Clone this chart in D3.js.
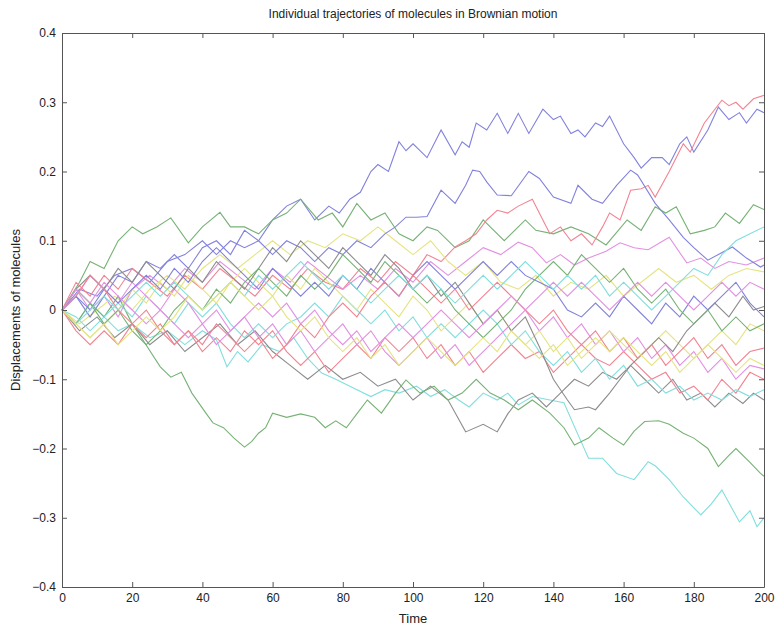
<!DOCTYPE html>
<html><head><meta charset="utf-8">
<script src="https://cdn.jsdelivr.net/npm/d3@7/dist/d3.min.js"></script>
<style>
html,body{margin:0;padding:0;background:#fff;}
text{font-family:"Liberation Sans",Arial,sans-serif;}
</style></head>
<body><svg id="c" width="775" height="629"></svg>
<script>
const title = "Individual trajectories of molecules in Brownian motion";
const xLabel = "Time";
const yLabel = "Displacements of molecules";
const xTicks = [0,20,40,60,80,100,120,140,160,180,200];
const yTicks = [-0.4,-0.3,-0.2,-0.1,0,0.1,0.2,0.3,0.4];
const lineColors = ["#8282dc","#76b276","#f28492","#82dede","#e290e2","#e4e482","#8c8c8c"];

// knots [time, displacement]
const traj01 = [[0,0],[5,0.03],[10,0.02],[15,0.05],[20,0.06],[25,0.04],[30,0.07],[35,0.08],[40,0.1],[44,0.08],[48,0.1],[52,0.09],[56,0.1],[60,0.13],[64,0.15],[68,0.16],[72,0.13],[76,0.15],[79,0.14],[82,0.16],[85,0.17],[88,0.2],[90,0.21],[93,0.2],[96,0.243],[98,0.23],[100,0.24],[102,0.23],[104,0.22],[108,0.26],[112,0.224],[114,0.243],[116,0.235],[118,0.27],[121,0.26],[124,0.284],[127,0.255],[130,0.284],[133,0.255],[137,0.29],[140,0.275],[142,0.28],[145,0.255],[147,0.26],[149,0.25],[152,0.27],[154,0.265],[156,0.28],[160,0.24],[163,0.22],[165,0.205],[168,0.22],[171,0.22],[173,0.21],[176,0.24],[178,0.25],[180,0.228],[184,0.26],[187,0.293],[190,0.275],[193,0.285],[195,0.27],[198,0.29],[200,0.285]];
const traj02 = [[0,0],[5,0.04],[8,0.07],[12,0.06],[16,0.1],[20,0.12],[23,0.11],[27,0.12],[31,0.133],[36,0.097],[40,0.12],[45,0.141],[48,0.12],[52,0.12],[56,0.11],[60,0.13],[64,0.14],[68,0.16],[73,0.13],[77,0.14],[80,0.12],[84,0.154],[88,0.13],[92,0.14],[96,0.11],[100,0.1],[104,0.12],[107,0.115],[112,0.09],[116,0.1],[120,0.13],[122,0.12],[126,0.1],[130,0.12],[132,0.13],[135,0.115],[140,0.11],[145,0.12],[150,0.11],[155,0.094],[161,0.13],[165,0.115],[169,0.149],[172,0.14],[175,0.149],[179,0.11],[183,0.115],[186,0.12],[189,0.14],[193,0.125],[197,0.152],[200,0.145]];
const traj03 = [[0,0],[4,0.04],[8,0.02],[12,0.05],[16,0.03],[20,0.06],[25,0.04],[30,0.02],[35,0.05],[40,0.03],[45,0.06],[50,0.04],[55,0.02],[60,0.05],[65,0.03],[70,0.06],[75,0.04],[80,0.03],[85,0.06],[90,0.04],[95,0.07],[100,0.05],[104,0.08],[108,0.07],[112,0.091],[115,0.1],[118,0.11],[121,0.13],[124,0.144],[127,0.14],[130,0.15],[134,0.16],[137,0.13],[139,0.11],[142,0.12],[145,0.1],[148,0.11],[151,0.094],[154,0.12],[156,0.14],[159,0.13],[162,0.173],[165,0.175],[167,0.18],[169,0.163],[173,0.2],[177,0.24],[179,0.228],[183,0.27],[188,0.303],[190,0.295],[192,0.3],[194,0.29],[197,0.305],[200,0.31]];
const traj04 = [[0,0],[4,-0.02],[8,0.01],[12,-0.01],[16,-0.03],[20,-0.02],[25,-0.04],[30,-0.03],[35,-0.05],[40,-0.03],[44,-0.043],[47,-0.082],[50,-0.06],[53,-0.075],[57,-0.05],[62,-0.06],[66,-0.04],[70,-0.07],[74,-0.091],[78,-0.1],[82,-0.11],[88,-0.125],[92,-0.115],[96,-0.12],[101,-0.11],[105,-0.125],[109,-0.115],[113,-0.13],[116,-0.14],[120,-0.12],[124,-0.13],[127,-0.12],[130,-0.137],[134,-0.125],[139,-0.13],[143,-0.134],[147,-0.18],[150,-0.214],[154,-0.214],[158,-0.236],[163,-0.245],[167,-0.219],[169,-0.225],[173,-0.245],[177,-0.27],[182,-0.296],[185,-0.28],[188,-0.26],[193,-0.306],[196,-0.29],[198,-0.313],[200,-0.3]];
const traj05 = [[0,0],[4,0.03],[8,0.0],[12,0.02],[16,-0.01],[20,0.03],[25,0.05],[30,0.03],[35,0.06],[40,0.04],[45,0.07],[50,0.05],[55,0.03],[60,0.06],[65,0.04],[70,0.07],[75,0.05],[80,0.03],[85,0.05],[90,0.03],[95,0.06],[100,0.04],[105,0.07],[110,0.05],[115,0.07],[120,0.09],[125,0.08],[130,0.098],[134,0.09],[138,0.068],[142,0.08],[146,0.065],[150,0.075],[155,0.085],[159,0.097],[163,0.09],[167,0.087],[173,0.105],[178,0.068],[182,0.075],[186,0.06],[190,0.07],[195,0.065],[200,0.075]];
const traj06 = [[0,0],[5,-0.02],[10,0.0],[15,0.02],[20,0.0],[25,0.03],[30,0.05],[35,0.03],[40,0.06],[45,0.08],[50,0.06],[55,0.08],[60,0.1],[65,0.08],[70,0.1],[75,0.09],[80,0.11],[85,0.1],[90,0.12],[95,0.1],[100,0.08],[105,0.1],[110,0.07],[115,0.05],[120,0.07],[125,0.04],[130,0.03],[135,0.05],[140,0.02],[145,0.04],[150,0.03],[155,0.05],[160,0.02],[165,0.04],[170,0.06],[175,0.04],[180,0.05],[185,0.03],[190,0.05],[195,0.06],[200,0.055]];
const traj07 = [[0,0],[5,-0.03],[10,-0.01],[15,-0.04],[20,-0.02],[25,-0.05],[30,-0.03],[35,-0.06],[40,-0.04],[45,-0.02],[50,-0.05],[55,-0.03],[60,-0.06],[65,-0.08],[70,-0.1],[75,-0.08],[80,-0.1],[85,-0.09],[90,-0.11],[95,-0.1],[100,-0.13],[105,-0.11],[110,-0.13],[115,-0.176],[120,-0.165],[124,-0.176],[127,-0.15],[130,-0.13],[134,-0.12],[138,-0.14],[142,-0.12],[146,-0.1],[150,-0.11],[154,-0.09],[158,-0.1],[162,-0.08],[166,-0.1],[170,-0.12],[174,-0.1],[178,-0.13],[182,-0.12],[186,-0.14],[190,-0.12],[194,-0.135],[197,-0.12],[200,-0.13]];
const traj08 = [[0,0],[4,0.02],[8,-0.01],[12,0.02],[16,0.05],[20,0.04],[24,0.07],[28,0.06],[32,0.08],[36,0.06],[40,0.09],[44,0.1],[48,0.08],[52,0.115],[56,0.1],[60,0.08],[64,0.1],[68,0.09],[72,0.07],[76,0.09],[80,0.08],[84,0.1],[88,0.09],[92,0.11],[95,0.12],[98,0.134],[101,0.134],[104,0.135],[108,0.173],[112,0.154],[115,0.18],[117,0.202],[119,0.2],[121,0.185],[124,0.166],[128,0.165],[133,0.2],[136,0.19],[140,0.163],[145,0.154],[147,0.18],[151,0.16],[154,0.154],[158,0.18],[162,0.202],[164,0.195],[169,0.154],[173,0.13],[177,0.105],[180,0.09],[184,0.072],[187,0.08],[191,0.091],[195,0.075],[199,0.062],[200,0.065]];
const traj09 = [[0,0],[4,-0.02],[8,0.01],[12,-0.01],[16,0.02],[20,-0.02],[23,-0.043],[28,-0.082],[31,-0.097],[34,-0.09],[37,-0.12],[41,-0.149],[43,-0.163],[46,-0.17],[49,-0.185],[52,-0.198],[54,-0.19],[56,-0.178],[58,-0.17],[60,-0.149],[64,-0.155],[68,-0.15],[72,-0.155],[75,-0.17],[78,-0.16],[81,-0.17],[84,-0.15],[87,-0.13],[91,-0.149],[95,-0.12],[98,-0.101],[102,-0.12],[106,-0.11],[110,-0.13],[114,-0.12],[118,-0.1],[122,-0.12],[126,-0.13],[130,-0.144],[134,-0.13],[139,-0.149],[143,-0.17],[146,-0.195],[150,-0.185],[153,-0.17],[157,-0.185],[160,-0.195],[163,-0.175],[166,-0.161],[170,-0.16],[173,-0.165],[177,-0.178],[180,-0.185],[184,-0.2],[187,-0.226],[190,-0.21],[192,-0.2],[196,-0.22],[199,-0.236],[200,-0.24]];
const traj10 = [[0,0],[4,-0.03],[8,-0.05],[12,-0.03],[16,-0.05],[20,-0.02],[24,-0.04],[28,-0.02],[32,-0.05],[36,-0.03],[40,-0.06],[44,-0.04],[48,-0.06],[52,-0.03],[56,-0.05],[60,-0.03],[64,-0.06],[68,-0.08],[72,-0.06],[76,-0.09],[80,-0.07],[84,-0.05],[88,-0.07],[92,-0.04],[96,-0.06],[100,-0.04],[104,-0.07],[108,-0.05],[112,-0.08],[116,-0.06],[120,-0.09],[124,-0.07],[128,-0.05],[132,-0.07],[136,-0.06],[140,-0.09],[144,-0.07],[148,-0.05],[152,-0.07],[156,-0.08],[160,-0.06],[164,-0.08],[168,-0.1],[172,-0.09],[176,-0.12],[180,-0.11],[184,-0.13],[188,-0.1],[192,-0.12],[196,-0.09],[200,-0.1]];
const traj11 = [[0,0],[4,-0.01],[8,-0.03],[12,-0.01],[16,0.01],[20,-0.01],[24,0.02],[28,0.0],[32,-0.02],[36,0.01],[40,-0.01],[44,0.01],[48,-0.02],[52,-0.04],[56,-0.02],[60,-0.04],[64,-0.02],[68,-0.01],[72,0.01],[76,-0.01],[80,0.02],[84,0.0],[88,-0.02],[92,0.0],[96,-0.03],[100,-0.01],[104,-0.04],[108,-0.02],[112,-0.04],[116,-0.02],[120,0.0],[124,-0.02],[128,-0.05],[132,-0.03],[136,-0.06],[140,-0.08],[144,-0.06],[148,-0.09],[152,-0.07],[156,-0.1],[160,-0.08],[164,-0.11],[168,-0.1],[172,-0.12],[176,-0.11],[180,-0.13],[184,-0.12],[188,-0.13],[192,-0.115],[196,-0.125],[200,-0.115]];
const traj12 = [[0,0],[4,0.02],[8,0.05],[12,0.03],[16,0.01],[20,0.04],[24,0.02],[28,0.0],[32,0.03],[36,0.01],[40,-0.02],[44,0.0],[48,-0.03],[52,-0.01],[56,-0.04],[60,-0.02],[64,-0.05],[68,-0.03],[72,-0.06],[76,-0.04],[80,-0.02],[84,-0.05],[88,-0.03],[92,-0.06],[96,-0.08],[100,-0.06],[104,-0.04],[108,-0.07],[112,-0.05],[116,-0.08],[120,-0.06],[124,-0.04],[128,-0.02],[132,0.0],[136,-0.03],[140,-0.01],[144,-0.04],[148,-0.02],[152,-0.05],[156,-0.03],[160,-0.06],[164,-0.04],[168,-0.07],[172,-0.05],[176,-0.08],[180,-0.06],[184,-0.09],[188,-0.07],[192,-0.1],[196,-0.08],[200,-0.085]];
const traj13 = [[0,0],[4,-0.02],[8,-0.04],[12,-0.02],[16,0.0],[20,0.03],[24,0.01],[28,0.04],[32,0.02],[36,0.05],[40,0.03],[44,0.01],[48,0.04],[52,0.06],[56,0.04],[60,0.02],[64,0.05],[68,0.03],[72,0.06],[76,0.04],[80,0.02],[84,0.0],[88,0.03],[92,0.01],[96,-0.01],[100,0.02],[104,0.0],[108,-0.03],[112,-0.01],[116,0.01],[120,-0.02],[124,0.0],[128,-0.03],[132,-0.05],[136,-0.03],[140,-0.06],[144,-0.04],[148,-0.07],[152,-0.05],[156,-0.03],[160,-0.05],[164,-0.07],[168,-0.05],[172,-0.03],[176,-0.05],[180,-0.07],[184,-0.05],[188,-0.03],[192,-0.05],[196,-0.02],[200,-0.03]];
const traj14 = [[0,0],[4,0.03],[8,0.05],[12,0.03],[16,0.06],[20,0.04],[24,0.07],[28,0.05],[32,0.03],[36,0.06],[40,0.04],[44,0.07],[48,0.05],[52,0.03],[56,0.06],[60,0.09],[64,0.07],[68,0.1],[72,0.08],[76,0.06],[80,0.09],[84,0.07],[88,0.05],[92,0.08],[96,0.06],[100,0.03],[104,0.05],[108,0.02],[112,0.04],[116,0.01],[120,-0.02],[124,0.0],[128,-0.03],[132,-0.01],[136,-0.053],[140,-0.1],[144,-0.13],[146,-0.144],[150,-0.14],[152,-0.144],[156,-0.12],[159,-0.1],[162,-0.08],[166,-0.06],[170,-0.04],[174,-0.06],[178,-0.03],[182,-0.01],[186,0.01],[190,-0.01],[194,0.02],[197,0.0],[200,0.005]];
const traj15 = [[0,0],[4,0.02],[8,0.0],[12,0.03],[16,0.01],[20,0.03],[24,0.05],[28,0.03],[32,0.06],[36,0.04],[40,0.07],[44,0.09],[48,0.07],[52,0.05],[56,0.03],[60,0.06],[64,0.04],[68,0.02],[72,0.04],[76,0.02],[80,0.05],[84,0.03],[88,0.06],[92,0.04],[96,0.02],[100,0.05],[104,0.07],[108,0.05],[112,0.03],[116,0.05],[120,0.07],[124,0.05],[128,0.07],[132,0.05],[136,0.04],[140,0.03],[144,0.0],[148,-0.01],[152,0.01],[156,-0.01],[160,0.02],[164,0.0],[168,-0.02],[172,0.01],[176,-0.01],[180,0.02],[184,0.0],[188,0.02],[192,0.04],[196,0.01],[200,-0.01]];
const traj16 = [[0,0],[4,0.03],[8,0.01],[12,-0.02],[16,0.0],[20,-0.03],[24,-0.05],[28,-0.03],[32,0.0],[36,0.02],[40,0.0],[44,0.03],[48,0.01],[52,0.04],[56,0.06],[60,0.04],[64,0.02],[68,0.05],[72,0.03],[76,0.05],[80,0.08],[84,0.06],[88,0.04],[92,0.07],[96,0.05],[100,0.03],[104,0.01],[108,0.03],[112,0.0],[116,-0.02],[120,-0.04],[124,-0.02],[128,0.0],[132,0.03],[136,0.05],[140,0.07],[144,0.05],[148,0.08],[152,0.06],[156,0.04],[160,0.06],[164,0.03],[168,0.01],[172,0.03],[176,0.0],[180,-0.02],[184,0.0],[188,-0.03],[192,-0.01],[196,-0.03],[200,-0.02]];
const traj17 = [[0,0],[4,0.02],[8,0.05],[12,0.03],[16,0.0],[20,-0.02],[24,0.0],[28,-0.03],[32,-0.05],[36,-0.03],[40,-0.05],[44,-0.02],[48,-0.04],[52,-0.06],[56,-0.04],[60,-0.07],[64,-0.05],[68,-0.02],[72,-0.04],[76,-0.01],[80,0.01],[84,-0.01],[88,0.02],[92,0.04],[96,0.02],[100,0.05],[104,0.03],[108,0.01],[112,0.03],[116,0.0],[120,0.02],[124,0.04],[128,0.02],[132,0.0],[136,-0.02],[140,0.0],[144,-0.03],[148,-0.05],[152,-0.03],[156,-0.06],[160,-0.04],[164,-0.07],[168,-0.05],[172,-0.08],[176,-0.06],[180,-0.04],[184,-0.07],[188,-0.05],[192,-0.08],[196,-0.06],[200,-0.055]];
const traj18 = [[0,0],[4,-0.02],[8,0.0],[12,0.02],[16,0.0],[20,0.02],[24,0.04],[28,0.02],[32,0.04],[36,0.02],[40,0.0],[44,0.02],[48,0.04],[52,0.02],[56,0.05],[60,0.03],[64,0.05],[68,0.07],[72,0.05],[76,0.03],[80,0.05],[84,0.03],[88,0.01],[92,0.03],[96,0.05],[100,0.03],[104,0.05],[108,0.03],[112,0.01],[116,0.03],[120,0.05],[124,0.03],[128,0.05],[132,0.07],[136,0.05],[140,0.03],[144,0.05],[148,0.03],[152,0.05],[156,0.02],[160,0.04],[164,0.02],[168,0.0],[172,0.02],[176,0.04],[180,0.06],[184,0.05],[188,0.08],[192,0.1],[196,0.11],[200,0.12]];
const traj19 = [[0,0],[4,0.03],[8,0.01],[12,0.04],[16,0.02],[20,0.0],[24,-0.02],[28,0.0],[32,-0.02],[36,-0.04],[40,-0.02],[44,-0.05],[48,-0.03],[52,-0.01],[56,0.01],[60,-0.01],[64,0.01],[68,-0.02],[72,0.0],[76,-0.03],[80,-0.05],[84,-0.03],[88,-0.06],[92,-0.04],[96,-0.02],[100,-0.04],[104,-0.02],[108,0.0],[112,-0.02],[116,-0.04],[120,-0.02],[124,0.0],[128,0.02],[132,0.0],[136,0.02],[140,0.04],[144,0.02],[148,0.04],[152,0.02],[156,0.0],[160,0.02],[164,0.04],[168,0.02],[172,0.04],[176,0.02],[180,0.0],[184,0.02],[188,0.04],[192,0.02],[196,0.04],[200,0.03]];
const traj20 = [[0,0],[4,-0.02],[8,-0.04],[12,-0.02],[16,-0.05],[20,-0.03],[24,-0.01],[28,-0.03],[32,-0.01],[36,0.02],[40,0.0],[44,0.02],[48,0.04],[52,0.02],[56,0.0],[60,0.02],[64,-0.01],[68,-0.03],[72,-0.01],[76,-0.04],[80,-0.06],[84,-0.04],[88,-0.07],[92,-0.05],[96,-0.08],[100,-0.06],[104,-0.04],[108,-0.06],[112,-0.08],[116,-0.06],[120,-0.04],[124,-0.06],[128,-0.03],[132,-0.05],[136,-0.07],[140,-0.05],[144,-0.08],[148,-0.06],[152,-0.04],[156,-0.06],[160,-0.04],[164,-0.06],[168,-0.08],[172,-0.06],[176,-0.09],[180,-0.07],[184,-0.05],[188,-0.07],[192,-0.09],[196,-0.07],[200,-0.08]];

const trajectories = [traj01,traj02,traj03,traj04,traj05,traj06,traj07,traj08,traj09,traj10,
                      traj11,traj12,traj13,traj14,traj15,traj16,traj17,traj18,traj19,traj20];

const svg = d3.select("#c");
const W = 775, H = 629;
const m = {left:62, right:11, top:33, bottom:42};
const pw = W - m.left - m.right, ph = H - m.top - m.bottom;
svg.append("rect").attr("width",W).attr("height",H).attr("fill","#fff");

const x = d3.scaleLinear().domain([0,200]).range([m.left, m.left+pw]);
const y = d3.scaleLinear().domain([-0.4,0.4]).range([m.top+ph, m.top]);

const plot = svg.append("g");
const line = d3.line().x(d=>x(d[0])).y(d=>y(d[1]));
trajectories.forEach((t,i)=>{
  plot.append("path").datum(t).attr("d",line)
    .attr("fill","none").attr("stroke",lineColors[i%lineColors.length])
    .attr("stroke-width",1.1).attr("stroke-linejoin","miter");
});

const axisColor = "#555";
const fmtY = d => d===0 ? "0" : d3.format(".1f")(d);
const gB = svg.append("g").attr("transform",`translate(0,${m.top+ph})`)
  .call(d3.axisBottom(x).tickValues(xTicks).tickSizeInner(-5).tickSizeOuter(0).tickPadding(6).tickFormat(d3.format("d")));
const gT = svg.append("g").attr("transform",`translate(0,${m.top})`)
  .call(d3.axisTop(x).tickValues(xTicks).tickSizeInner(-5).tickSizeOuter(0).tickFormat(""));
const gL = svg.append("g").attr("transform",`translate(${m.left},0)`)
  .call(d3.axisLeft(y).tickValues(yTicks).tickSizeInner(-5).tickSizeOuter(0).tickPadding(6).tickFormat(fmtY));
const gR = svg.append("g").attr("transform",`translate(${m.left+pw},0)`)
  .call(d3.axisRight(y).tickValues(yTicks).tickSizeInner(-5).tickSizeOuter(0).tickFormat(""));
[gB,gT,gL,gR].forEach(g=>{
  g.selectAll("path").attr("stroke",axisColor);
  g.selectAll("line").attr("stroke",axisColor);
  g.selectAll("text").attr("fill","#222").style("font-size","12px").style("font-family","'Liberation Sans',Arial,sans-serif");
});

svg.append("text").attr("x",m.left+pw/2).attr("y",18).attr("text-anchor","middle")
  .style("font-size","12px").attr("fill","#222").text(title);
svg.append("text").attr("x",m.left+pw/2).attr("y",623).attr("text-anchor","middle")
  .style("font-size","13px").attr("fill","#222").text(xLabel);
svg.append("text").attr("transform",`translate(20,${m.top+ph/2}) rotate(-90)`).attr("text-anchor","middle")
  .style("font-size","13px").attr("fill","#222").text(yLabel);
</script></body></html>
